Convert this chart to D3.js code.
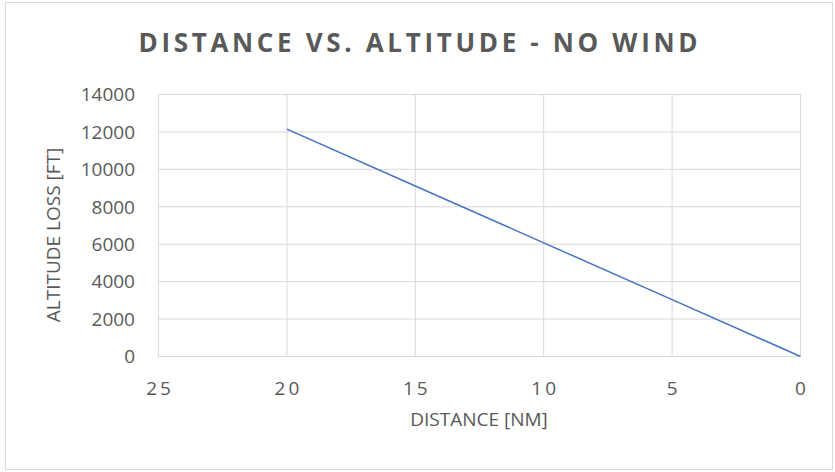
<!DOCTYPE html>
<html><head><meta charset="utf-8">
<script src="https://cdn.jsdelivr.net/npm/d3@7"></script>
<style>body{margin:0;background:#fff}svg{display:block}</style>
</head><body><svg id="c" width="835" height="472"></svg>
<script>
const distance = [20, 15, 10, 5, 0];
const altitudeLoss = [12150, 9110, 6075, 3040, 0];
const xTicks = [25, 20, 15, 10, 5, 0];
const yTicks = [0, 2000, 4000, 6000, 8000, 10000, 12000, 14000];
const title = "DISTANCE VS. ALTITUDE - NO WIND";
const xTitle = "DISTANCE [NM]";
const yTitle = "ALTITUDE LOSS [FT]";

const svg = d3.select("#c");
const font = "'Open Sans', 'Liberation Sans', sans-serif";
const col = "#595959";
svg.append("rect").attr("x",5.5).attr("y",2.5).attr("width",827).attr("height",467)
  .attr("fill","#fff").attr("stroke","#d9d9d9");

const x = d3.scaleLinear().domain([25,0]).range([158.5,800.5]);
const y = d3.scaleLinear().domain([0,14000]).range([356.5,94.5]);

const g = svg.append("g");
g.selectAll(".vg").data(xTicks).join("line")
  .attr("x1",d=>x(d)).attr("x2",d=>x(d)).attr("y1",y(0)).attr("y2",y(14000))
  .attr("stroke","#d9d9d9").attr("stroke-width",1);
g.selectAll(".hg").data(yTicks).join("line")
  .attr("x1",x(25)).attr("x2",x(0)).attr("y1",d=>y(d)).attr("y2",d=>y(d))
  .attr("stroke","#d9d9d9").attr("stroke-width",1);

const line = d3.line().x((d,i)=>x(distance[i])).y(d=>y(d));
g.append("path").datum(altitudeLoss).attr("d",line).attr("fill","none")
  .attr("stroke","#4472c4").attr("stroke-width",1.5);

g.selectAll(".yl").data(yTicks).join("text")
  .attr("x",135).attr("y",d=>y(d)).attr("dy","0.36em").attr("text-anchor","end")
  .attr("font-family",font).attr("font-size",19).attr("fill",col).text(d=>d);
const ls = 3;
g.selectAll(".xl").data(xTicks).join("text")
  .attr("x",d=>x(d)+ls/2).attr("y",395).attr("text-anchor","middle")
  .attr("font-family",font).attr("font-size",19).attr("letter-spacing",ls+"px").attr("fill",col).text(d=>d);

const t = svg.append("text").attr("x",418).attr("y",52).attr("text-anchor","middle")
  .attr("font-family",font).attr("font-weight","bold").attr("font-size",26)
  .attr("fill",col).text(title);
// fit letter spacing to reference width (~559px)
const n = title.length;
const w0 = t.node().getComputedTextLength();
const sp = Math.max(0,(559 - w0)/(n-1));
t.attr("letter-spacing",sp+"px").attr("x",418+sp/2);

svg.append("text").attr("x",479).attr("y",426).attr("text-anchor","middle")
  .attr("font-family",font).attr("font-size",19).attr("fill",col).text(xTitle);
svg.append("text").attr("transform","translate(60,235) rotate(-90)").attr("text-anchor","middle")
  .attr("font-family",font).attr("font-size",19).attr("fill",col).text(yTitle);
</script></body></html>
